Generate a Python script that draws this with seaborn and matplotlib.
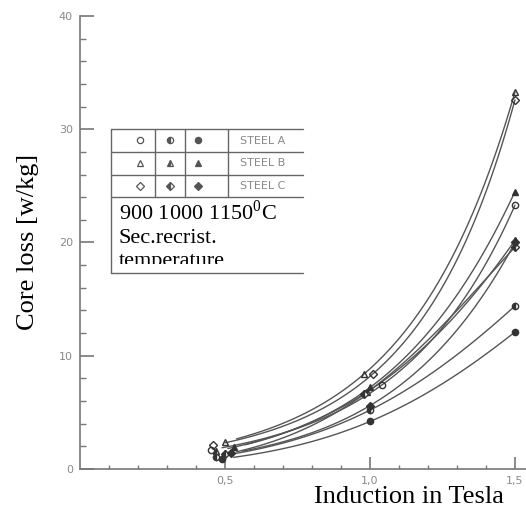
import numpy as np
import pandas as pd
import matplotlib
matplotlib.use("Agg")
import matplotlib.pyplot as plt
import seaborn as sns
from matplotlib.transforms import Affine2D, Bbox

# ---------------- data ----------------
series = ["A900", "A1000", "A1150", "B900", "B1000", "B1150", "C900", "C1000", "C1150"]
steel = ["A", "A", "A", "B", "B", "B", "C", "C", "C"]
fill = ["none", "left", "full", "none", "left", "full", "none", "left", "full"]
x_low = [0.45, 0.47, 0.49, 0.50, 0.47, 0.53, 0.46, 0.50, 0.52]
y_low = [1.7, 1.1, 0.9, 2.4, 1.6, 1.9, 2.1, 1.3, 1.4]
x_mid = [1.04, 1.00, 1.00, 0.98, 0.99, 1.00, 1.01, 0.98, 1.00]
y_mid = [7.4, 5.2, 4.2, 8.4, 6.8, 7.2, 8.4, 6.6, 5.6]
x_high = [1.5, 1.5, 1.5, 1.5, 1.5, 1.5, 1.5, 1.5, 1.5]
y_high = [23.3, 14.4, 12.1, 33.3, 20.2, 24.5, 32.6, 19.6, 20.0]

x_ticks = [0.5, 1.0, 1.5]
x_ticklabels = ["0,5", "1,0", "1,5"]
y_ticks = [0, 10, 20, 30, 40]
y_ticklabels = ["0", "10", "20", "30", "40"]
steel_labels = ["STEEL A", "STEEL B", "STEEL C"]
marker_of = {"A": "o", "B": "^", "C": "D"}

# ---------------- figure ----------------
sns.set_style("ticks")
plt.rcParams["font.family"] = ["DejaVu Sans"]
plt.rcParams["mathtext.fontset"] = "custom"
plt.rcParams["mathtext.rm"] = "Liberation Serif"

W, H = 526, 511
fig = plt.figure(figsize=(W / 100, H / 100), dpi=100)
fig.patch.set_facecolor("white")
pix = Affine2D().scale(1 / W, -1 / H).translate(0, 1) + fig.transFigure

ax_left, ax_right, ax_top, ax_bot = 80, 526, 16, 469
ax = fig.add_axes([ax_left / W, 1 - ax_bot / H, (ax_right - ax_left) / W, (ax_bot - ax_top) / H])
ax.set_facecolor("white")

# smooth curves through the three measured points of each series
rows = []
for i, s in enumerate(series):
    xs = np.array([x_low[i], x_mid[i], x_high[i]])
    ys = np.log(np.array([y_low[i], y_mid[i], y_high[i]]))
    coef = np.polyfit(xs, ys, 2)
    xx = np.linspace(x_low[i] + 0.04, x_high[i], 120)
    for xv in xx:
        rows.append({"series": s, "x": xv, "y": float(np.exp(np.polyval(coef, xv)))})
curves = pd.DataFrame(rows)
sns.lineplot(data=curves, x="x", y="y", hue="series", palette=["#555555"] * len(series),
             estimator=None, sort=True, legend=False, linewidth=1.0, ax=ax)

# markers
mcol = "#333333"
for i, s in enumerate(series):
    ax.plot([x_low[i], x_mid[i], x_high[i]], [y_low[i], y_mid[i], y_high[i]],
            linestyle="none", marker=marker_of[steel[i]], fillstyle=fill[i],
            markersize=4.5 if steel[i] != "C" else 4.0, markeredgewidth=1.0,
            color=mcol, markerfacecoloralt="white", clip_on=False, zorder=3)

# axes styling
ax.set_xlim(0, (ax_right - ax_left) / 290.0)
ax.set_ylim(0, 40)
sns.despine(ax=ax)
for sp in ["left", "bottom"]:
    ax.spines[sp].set_color("#777777")
    ax.spines[sp].set_linewidth(1.2)
ax.set_xticks(x_ticks)
ax.set_xticklabels(x_ticklabels)
ax.set_xticks(np.arange(0.1, 1.55, 0.1), minor=True)
ax.set_yticks(y_ticks)
ax.set_yticklabels(y_ticklabels)
ax.set_yticks(np.arange(2, 40, 2), minor=True)
ax.tick_params(axis="both", which="both", direction="in", colors="#777777",
               labelcolor="#8a8a8a", labelsize=8)
ax.tick_params(axis="y", which="major", length=10, width=1.2, pad=5)
ax.tick_params(axis="y", which="minor", length=4.5, width=1.0)
ax.tick_params(axis="x", which="major", length=8.5, width=1.2, pad=5)
ax.tick_params(axis="x", which="minor", length=3, width=1.0)
ax.set_xlabel("")
ax.set_ylabel("")

# axis titles
fig.text(28 / W, 1 - 242 / H, "Core loss [w/kg]", rotation=90, ha="center", va="center",
         family="Liberation Serif", fontsize=19, color="black")
fig.text(409 / W, 1 - 497 / H, "Induction in Tesla", ha="center", va="center",
         family="Liberation Serif", fontsize=19, color="black")

# legend table
lc = "#666666"
tl, tr = 111, 303
row_y = [129, 152, 175, 197]
for yy in row_y:
    fig.add_artist(plt.Line2D([tl, tr], [yy, yy], transform=pix, color=lc, lw=1.0))
for xx in [155, 185, 228]:
    fig.add_artist(plt.Line2D([xx, xx], [129, 197], transform=pix, color=lc, lw=1.0))
fig.add_artist(plt.Line2D([tl, tl], [129, 273], transform=pix, color=lc, lw=1.0))
fig.add_artist(plt.Line2D([tl, tr], [273, 273], transform=pix, color=lc, lw=1.0))

col_x = [140, 170, 198]
fills3 = ["none", "left", "full"]
for r, st in enumerate(["A", "B", "C"]):
    cy = (row_y[r] + row_y[r + 1]) / 2
    for c in range(3):
        fig.add_artist(plt.Line2D([col_x[c]], [cy], transform=pix, linestyle="none",
                                  marker=marker_of[st], fillstyle=fills3[c],
                                  markersize=4.5 if st != "C" else 4.0, markeredgewidth=0.9,
                                  color="#555555", markerfacecoloralt="white"))
    fig.text(240 / W, 1 - cy / H, steel_labels[r], ha="left", va="center",
             fontsize=8, color="#888888")

# overlay caption text (clipped at the bottom like the reference)
clip = Bbox([[112, H - 264], [302, H - 198]])
cap_lines = ["900 1000 1150$^{0}$C", "Sec.recrist.", "temperature"]
cap_base = [220, 243, 266]
for txt, by in zip(cap_lines, cap_base):
    t = fig.text(119 / W, 1 - by / H, txt, ha="left", va="baseline",
                 family="Liberation Serif", fontsize=16, color="black")
    t.set_clip_box(clip)
    t.set_clip_on(True)

fig.savefig("out.png", dpi=100, facecolor="white")
